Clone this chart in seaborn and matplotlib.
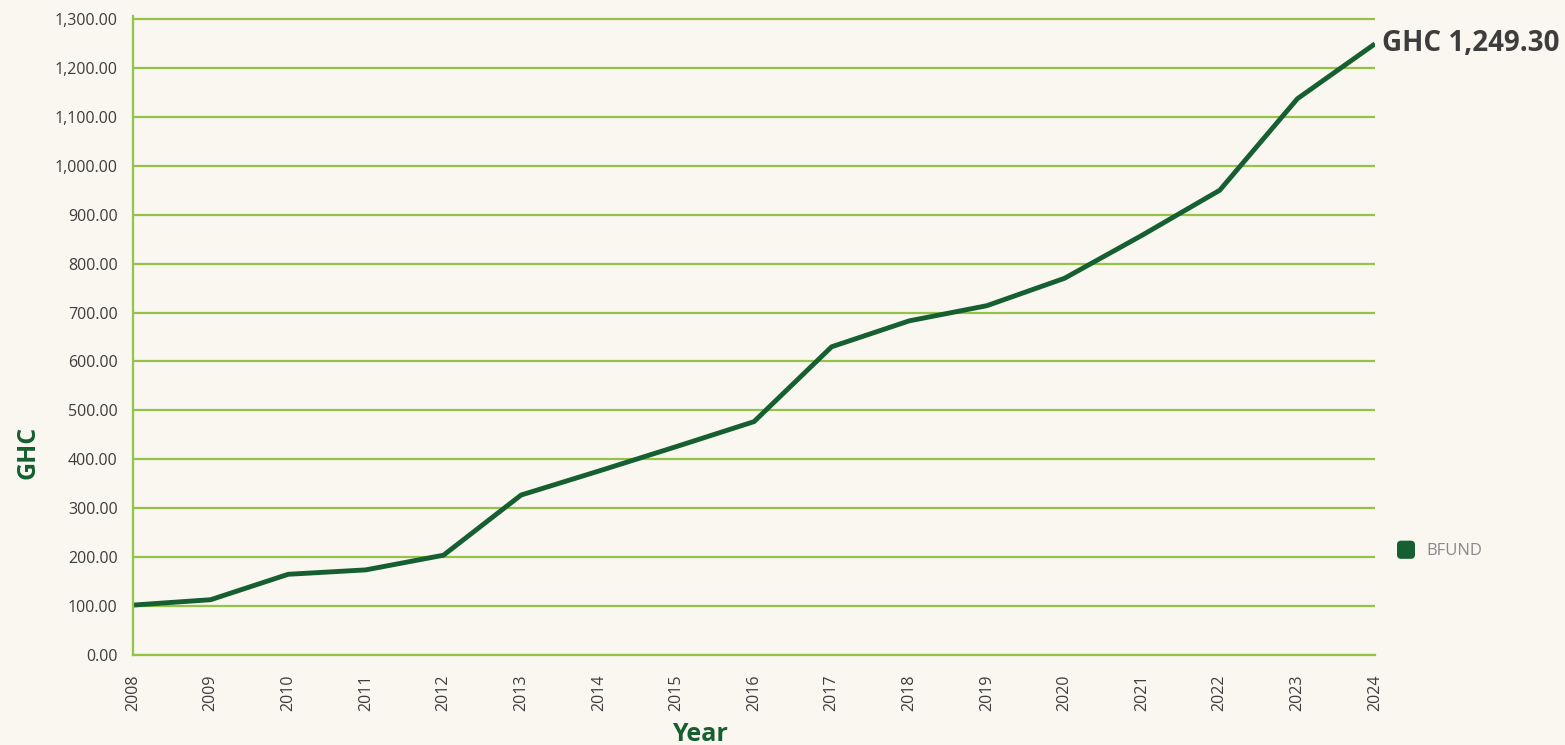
import pandas as pd
import matplotlib
matplotlib.use('Agg')
import matplotlib.pyplot as plt
import seaborn as sns
from matplotlib.patches import Patch, FancyBboxPatch
from matplotlib.legend_handler import HandlerPatch
from matplotlib.ticker import FuncFormatter

# values
years = [2008, 2009, 2010, 2011, 2012, 2013, 2014, 2015, 2016,
         2017, 2018, 2019, 2020, 2021, 2022, 2023, 2024]
bfund = [102, 113, 165, 174, 204, 327, 376, 426, 477,
         630, 683, 714, 770, 858, 950, 1137, 1249.30]
y_ticks = [0, 100, 200, 300, 400, 500, 600, 700, 800, 900, 1000, 1100, 1200, 1300]
series_name = 'BFUND'
last_label = 'GHC 1,249.30'

bg = '#faf6f0'
grid_green = '#93c447'
line_green = '#165f31'
text_gray = '#3d3d3d'

sns.set_style('white')
plt.rcParams['font.family'] = ['Open Sans', 'DejaVu Sans']

df = pd.DataFrame({'Year': years, 'GHC': bfund})

fig = plt.figure(figsize=(15.65, 7.45), dpi=100, facecolor=bg)
# axes top a little above the 1,300 gridline so that line is not clipped
ax = fig.add_axes([133 / 1565, 1 - 655 / 745, (1375 - 133) / 1565, (655 - 16) / 745])
ax.set_facecolor(bg)

sns.lineplot(data=df, x='Year', y='GHC', color=line_green, linewidth=3.5,
             ax=ax, label=series_name, solid_capstyle='butt')

ax.set_xlim(2008, 2024)
ax.set_ylim(0, 1300 * 639 / 636)
ax.set_xticks(years)
ax.set_xticklabels([str(y) for y in years], rotation=90)
ax.set_yticks(y_ticks)
ax.yaxis.set_major_formatter(FuncFormatter(lambda v, p: f'{v:,.2f}'))

ax.grid(axis='y', color=grid_green, linewidth=1.6)
ax.grid(axis='x', visible=False)
ax.set_axisbelow(True)

for s in ['top', 'right']:
    ax.spines[s].set_visible(False)
for s in ['left', 'bottom']:
    ax.spines[s].set_color(grid_green)
    ax.spines[s].set_linewidth(1.6)

ax.tick_params(axis='y', length=0, pad=11, labelsize=11.5, labelcolor=text_gray)
ax.tick_params(axis='x', direction='inout', length=4.5, width=1.4, color=grid_green,
               pad=12, labelsize=11.5, labelcolor=text_gray)

ax.set_xlabel('')
ax.set_ylabel('')
fig.text(700 / 1565, 1 - 741 / 745, 'Year', fontsize=18, fontweight='bold',
         color=line_green, ha='center', va='baseline')
fig.text(28 / 1565, 1 - 452 / 745, 'GHC', fontsize=18, fontweight='bold',
         color=line_green, ha='center', va='center', rotation=90)

# label at the last point
ax.annotate(last_label, xy=(years[-1], bfund[-1]), xytext=(5, 0),
            textcoords='offset points', fontsize=20, fontweight='bold',
            color=text_gray, ha='left', va='center', annotation_clip=False)


def rounded_patch(legend, orig_handle, xdescent, ydescent, width, height, fontsize):
    return FancyBboxPatch((-xdescent, -ydescent), width, height,
                          boxstyle='round,pad=0,rounding_size=3')


handle = Patch(facecolor=line_green, edgecolor='none')
ax.legend(handles=[handle], labels=[series_name], loc='center left',
          bbox_to_anchor=(1397 / 1565, 1 - 550 / 745), bbox_transform=fig.transFigure,
          frameon=False, fontsize=12, labelcolor='#8a8a8a', borderpad=0,
          borderaxespad=0, handlelength=1.08, handleheight=1.3, handletextpad=0.7,
          handler_map={Patch: HandlerPatch(patch_func=rounded_patch)})

fig.savefig('out.png', dpi=100, facecolor=bg)
